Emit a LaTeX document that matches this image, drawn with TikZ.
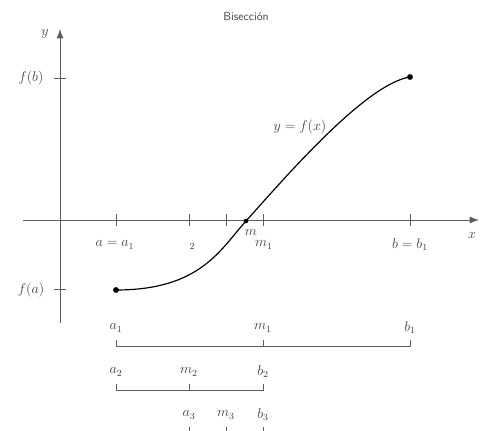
\documentclass[tikz,border=0pt]{standalone}
\usepackage{amsmath}
\usepackage{tikz}
\usetikzlibrary{arrows.meta,positioning,calc}
\definecolor{axisgray}{HTML}{5E5E5E}
\definecolor{labelgray}{HTML}{404040}

\begin{document}
\begin{tikzpicture}[
  x=0.03cm, y=-0.03cm,
  axis/.style={axisgray, line width=0.7pt, -{Latex[length=8pt,width=6pt]}},
  tick/.style={axisgray, line width=0.7pt},
  interval/.style={axisgray, line width=0.8pt},
  lbl/.style={text=labelgray, inner sep=1pt, font=\large},
  dot/.style={circle, fill=black, inner sep=0pt, minimum size=5pt},
  curve/.style={black, line width=1pt}
]
  \useasboundingbox (0,0) rectangle (480,431);

  % axes
  \coordinate (xstart) at (23,220);
  \coordinate (xend) at (479,220);
  \coordinate (ystart) at (60,323);
  \coordinate (yend) at (60,29);
  \draw[axis] (xstart) -- (xend);
  \draw[axis] (ystart) -- (yend);
  \node[lbl] (ylab) at (45,34) {$y$};
  \node[lbl] (xlab) at (472,235) {$x$};
  \node[text=labelgray, font=\normalsize\sffamily] (title) at (246,17) {Bisección};

  % ticks on the axes
  \foreach \tx in {116,189,226,263,410}
    \draw[tick] (\tx,214) -- (\tx,226);
  \draw[tick] (54,78) -- (66,78);
  \draw[tick] (54,289) -- (66,289);
  \node[lbl] (fb) at (31,78) {$f(b)$};
  \node[lbl] (fa) at (31,290) {$f(a)$};

  % curve
  \node[dot] (pa) at (116,290) {};
  \node[dot] (pb) at (410,77) {};
  \node[dot, minimum size=4pt] (root) at (246,221) {};
  \draw[curve] (pa.center) .. controls (200,290) and (220,250) .. (root.center)
    .. controls (283,180) and (365,84) .. (pb.center);
  \node[lbl] (curvelab) at (300,127) {$y = f(x)$};

  % labels on the x axis
  \node[lbl] (alab) at (115,245) {$a = a_1$};
  \node[lbl, font=\footnotesize] (twolab) at (192,246) {$2$};
  \node[lbl] (mlab) at (251,232) {$m$};
  \node[lbl] (m1lab) at (264,245) {$m_1$};
  \node[lbl] (blab) at (410,245) {$b = b_1$};

  % first interval
  \draw[interval] (116,340) -- (116,346) -- (410,346) -- (410,340);
  \draw[tick] (263,340) -- (263,346);
  \node[lbl] (a1) at (116,328) {$a_1$};
  \node[lbl] (m1) at (263,328) {$m_1$};
  \node[lbl] (b1) at (410,328) {$b_1$};

  % second interval
  \draw[interval] (116,384) -- (116,390) -- (263,390) -- (263,384);
  \draw[tick] (189,384) -- (189,390);
  \node[lbl] (a2) at (116,372) {$a_2$};
  \node[lbl] (m2) at (189,372) {$m_2$};
  \node[lbl] (b2) at (263,372) {$b_2$};

  % third interval
  \draw[interval] (189,427) -- (189,433) -- (263,433) -- (263,427);
  \draw[tick] (226,427) -- (226,433);
  \node[lbl] (a3) at (189,415) {$a_3$};
  \node[lbl] (m3) at (226,415) {$m_3$};
  \node[lbl] (b3) at (263,415) {$b_3$};
\end{tikzpicture}
\end{document}
